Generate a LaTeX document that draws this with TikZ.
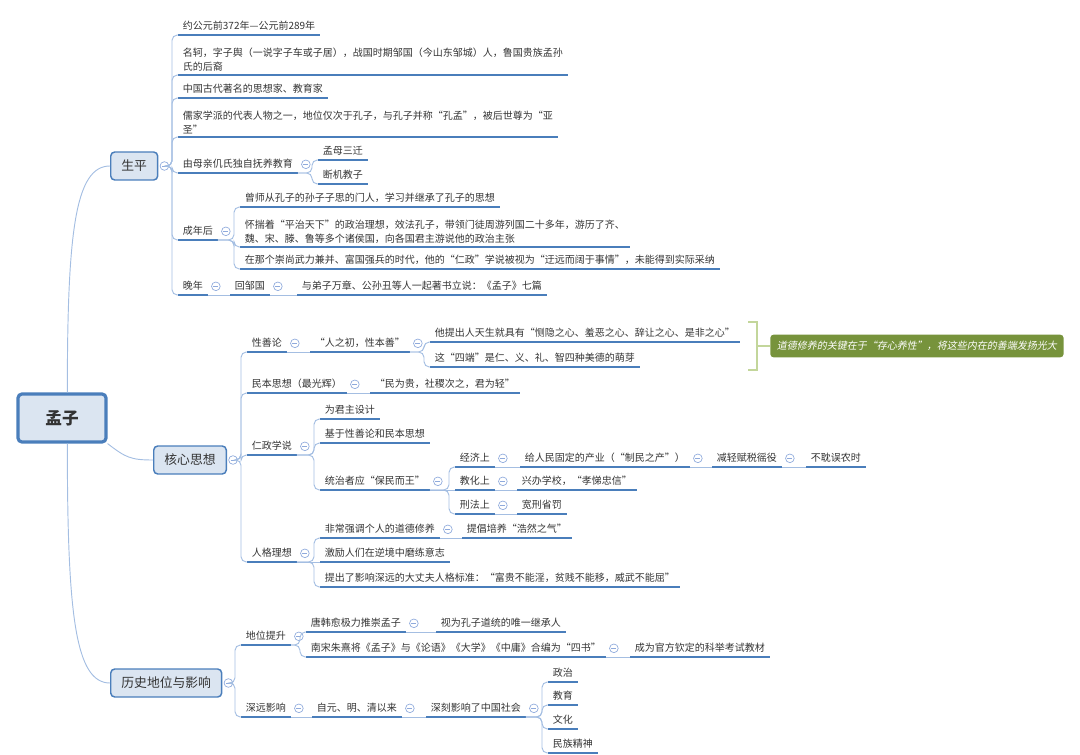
\documentclass[tikz,border=0pt]{standalone}
\usepackage{fontspec}
\setmainfont{Noto Sans CJK SC}
\newfontfamily\slantcjk[FakeSlant=0.2]{Noto Sans CJK SC}

\definecolor{mzblue}{HTML}{4A7EBB}
\definecolor{mzfill}{HTML}{DBE5F1}
\definecolor{mzline}{HTML}{A4BEE2}
\definecolor{mztext}{HTML}{333333}
\definecolor{mzfold}{HTML}{8FAADC}
\definecolor{mzgreen}{HTML}{77933C}
\definecolor{mzbrace}{HTML}{C3D69B}

\tikzset{
  topic/.style={draw=mzblue, fill=mzfill, line width=1.1pt, rounded corners=3pt,
    inner xsep=8pt, minimum height=21pt, text=mztext, font=\fontsize{9.6}{11}\selectfont},
  rootbox/.style={topic, line width=2.4pt, minimum width=66pt, minimum height=36pt,
    font=\fontsize{12.5}{14}\selectfont\bfseries},
  uline/.style={draw=mzblue, line width=1.3pt},
  leaf/.style={anchor=south west, inner xsep=3.5pt, inner ysep=2.4pt, text height=6.4pt,
    text depth=1.4pt, text=mztext, font=\fontsize{7.5}{10.5}\selectfont,
    append after command={(\tikzlastnode.south west) edge[uline] (\tikzlastnode.south east)}},
  leaftwo/.style={leaf, align=left, text height=, text depth=},
  conn/.style={draw=mzline, line width=0.7pt, rounded corners=4pt},
  foldmark/.style={circle, draw=mzfold, fill=white, line width=0.5pt, minimum size=6.5pt, inner sep=0pt,
    path picture={\draw[mzfold, line width=0.5pt] ([xshift=-1.8pt]path picture bounding box.center)
      -- ([xshift=1.8pt]path picture bounding box.center);}},
  callout/.style={fill=mzgreen, text=white, rounded corners=2.5pt, inner xsep=5pt, minimum height=17pt,
    font=\slantcjk\fontsize{7.5}{9}\selectfont},
  sumbrace/.style={draw=mzbrace, line width=2.2pt},
}

% 折叠标记和连线
\newcommand{\fold}[2][6pt]{\node[foldmark] (#2f) at ([xshift=#1]#2.east) {};}
\newcommand{\branch}[2]{\draw[conn] (#1) -| ([xshift=-4.5pt]#2.south west) -- (#2.south west);}
\newcommand{\chain}[2]{\draw[conn] (#1.south east) -- (#2.south west);}

\begin{document}
\begin{tikzpicture}[x=0.75pt, y=-0.75pt]
    \useasboundingbox (0,0) rectangle (1080,755);

    % 中心主题
    \node[rootbox] (mz) at (62,418) {孟子};

    % 一级主题
    \node[topic, anchor=west] (sp) at (110,166) {生平};
    \node[topic, anchor=west] (hx) at (153,460) {核心思想};
    \node[topic, anchor=west] (ls) at (110,683) {历史地位与影响};
    \fold[4.5pt]{sp} \fold[4.5pt]{hx} \fold[4.5pt]{ls}

    \draw[conn] ([xshift=4pt]mz.north) .. controls +(0,-160) and +(-35,0) .. (sp.west);
    \draw[conn] (mz.south east) .. controls +(18,14) and +(-22,0) .. (hx.west);
    \draw[conn] ([xshift=4pt]mz.south) .. controls +(0,170) and +(-35,0) .. (ls.west);

    % 生平
    \node[leaf] (sp1) at (178,35) {约公元前372年—公元前289年};
    \node[leaftwo] (sp2) at (178,75) {名轲，字子舆（一说字子车或子居），战国时期邹国（今山东邹城）人，鲁国贵族孟孙\\氏的后裔};
    \node[leaf] (sp3) at (178,98) {中国古代著名的思想家、教育家};
    \node[leaftwo] (sp4) at (178,137) {儒家学派的代表人物之一，地位仅次于孔子，与孔子并称“孔孟”，被后世尊为“亚\\圣”};
    \node[leaf] (sp5) at (178,173) {由母亲仉氏独自抚养教育};
    \node[leaf] (sp51) at (318,160) {孟母三迁};
    \node[leaf] (sp52) at (318,184) {断机教子};
    \node[leaf] (sp6) at (178,240) {成年后};
    \node[leaf] (sp61) at (240,207) {曾师从孔子的孙子子思的门人，学习并继承了孔子的思想};
    \node[leaftwo] (sp62) at (240,247) {怀揣着“平治天下”的政治理想，效法孔子，带领门徒周游列国二十多年，游历了齐、\\魏、宋、滕、鲁等多个诸侯国，向各国君主游说他的政治主张};
    \node[leaf] (sp63) at (240,269) {在那个崇尚武力兼并、富国强兵的时代，他的“仁政”学说被视为“迂远而阔于事情”，未能得到实际采纳};
    \node[leaf] (sp7) at (178,295) {晚年};
    \node[leaf] (sp71) at (230,295) {回邹国};
    \node[leaf] (sp711) at (297,295) {与弟子万章、公孙丑等人一起著书立说：《孟子》七篇};
    \fold{sp5} \fold{sp6} \fold{sp7} \fold{sp71}

    \foreach \c in {sp1,sp2,sp3,sp4,sp5,sp6,sp7} \branch{spf.east}{\c};
    \foreach \c in {sp51,sp52} \branch{sp5.south east}{\c};
    \foreach \c in {sp61,sp62,sp63} \branch{sp6.south east}{\c};
    \chain{sp7}{sp71} \chain{sp71}{sp711}

    % 核心思想
    \node[leaf] (hx1) at (247,352) {性善论};
    \node[leaf] (hx11) at (310,352) {“人之初，性本善”};
    \node[leaf] (hx111) at (430,342) {他提出人天生就具有“恻隐之心、羞恶之心、辞让之心、是非之心”};
    \node[leaf] (hx112) at (430,367) {这“四端”是仁、义、礼、智四种美德的萌芽};
    \node[leaf] (hx2) at (247,393) {民本思想（最光辉）};
    \node[leaf] (hx21) at (370,393) {“民为贵，社稷次之，君为轻”};
    \node[leaf] (hx3) at (247,455) {仁政学说};
    \node[leaf] (hx31) at (320,419) {为君主设计};
    \node[leaf] (hx32) at (320,443) {基于性善论和民本思想};
    \node[leaf] (hx33) at (320,490) {统治者应“保民而王”};
    \node[leaf] (hx331) at (455,467) {经济上};
    \node[leaf] (hx3311) at (520,467) {给人民固定的产业（“制民之产”）};
    \node[leaf] (hx33111) at (712,467) {减轻赋税徭役};
    \node[leaf] (hx331111) at (806,467) {不耽误农时};
    \node[leaf] (hx332) at (455,490) {教化上};
    \node[leaf] (hx3321) at (517,490) {兴办学校，“孝悌忠信”};
    \node[leaf] (hx333) at (455,514) {刑法上};
    \node[leaf] (hx3331) at (517,514) {宽刑省罚};
    \node[leaf] (hx4) at (247,562) {人格理想};
    \node[leaf] (hx41) at (320,538) {非常强调个人的道德修养};
    \node[leaf] (hx411) at (462,538) {提倡培养“浩然之气”};
    \node[leaf] (hx42) at (320,562) {激励人们在逆境中磨练意志};
    \node[leaf] (hx43) at (320,587) {提出了影响深远的大丈夫人格标准：“富贵不能淫，贫贱不能移，威武不能屈”};
    \fold{hx1} \fold{hx11} \fold{hx2} \fold{hx3} \fold{hx33} \fold{hx331} \fold{hx3311}
    \fold{hx33111} \fold{hx332} \fold{hx333} \fold{hx4} \fold{hx41}

    \foreach \c in {hx1,hx2,hx3,hx4} \branch{hxf.east}{\c};
    \chain{hx1}{hx11}
    \foreach \c in {hx111,hx112} \branch{hx11.south east}{\c};
    \chain{hx2}{hx21}
    \foreach \c in {hx31,hx32,hx33} \branch{hx3.south east}{\c};
    \foreach \c in {hx331,hx333} \branch{hx33.south east}{\c};
    \chain{hx33}{hx332}
    \chain{hx331}{hx3311} \chain{hx3311}{hx33111} \chain{hx33111}{hx331111}
    \chain{hx332}{hx3321} \chain{hx333}{hx3331}
    \foreach \c in {hx41,hx43} \branch{hx4.south east}{\c};
    \chain{hx4}{hx42} \chain{hx41}{hx411}

    % 概要
    \node[callout, anchor=west] (gy) at (770,346) {道德修养的关键在于“存心养性”，将这些内在的善端发扬光大};
    \draw[sumbrace] (748,322) -| (757,370) -- (748,370);
    \draw[sumbrace] (757,346) -- (gy.west);

    % 历史地位与影响
    \node[leaf] (ls1) at (241,645) {地位提升};
    \node[leaf] (ls11) at (306,632) {唐韩愈极力推崇孟子};
    \node[leaf] (ls111) at (436,632) {视为孔子道统的唯一继承人};
    \node[leaf] (ls12) at (306,657) {南宋朱熹将《孟子》与《论语》《大学》《中庸》合编为“四书”};
    \node[leaf] (ls121) at (630,657) {成为官方钦定的科举考试教材};
    \node[leaf] (ls2) at (241,717) {深远影响};
    \node[leaf] (ls21) at (312,717) {自元、明、清以来};
    \node[leaf] (ls211) at (426,717) {深刻影响了中国社会};
    \node[leaf] (ls2111) at (548,682) {政治};
    \node[leaf] (ls2112) at (548,705) {教育};
    \node[leaf] (ls2113) at (548,729) {文化};
    \node[leaf] (ls2114) at (548,753) {民族精神};
    \fold{ls1} \fold{ls11} \fold{ls12} \fold{ls2} \fold{ls21} \fold{ls211}

    \foreach \c in {ls1,ls2} \branch{lsf.east}{\c};
    \foreach \c in {ls11,ls12} \branch{ls1.south east}{\c};
    \chain{ls11}{ls111} \chain{ls12}{ls121}
    \chain{ls2}{ls21} \chain{ls21}{ls211}
    \foreach \c in {ls2111,ls2112,ls2113,ls2114} \branch{ls211.south east}{\c};
\end{tikzpicture}
\end{document}
